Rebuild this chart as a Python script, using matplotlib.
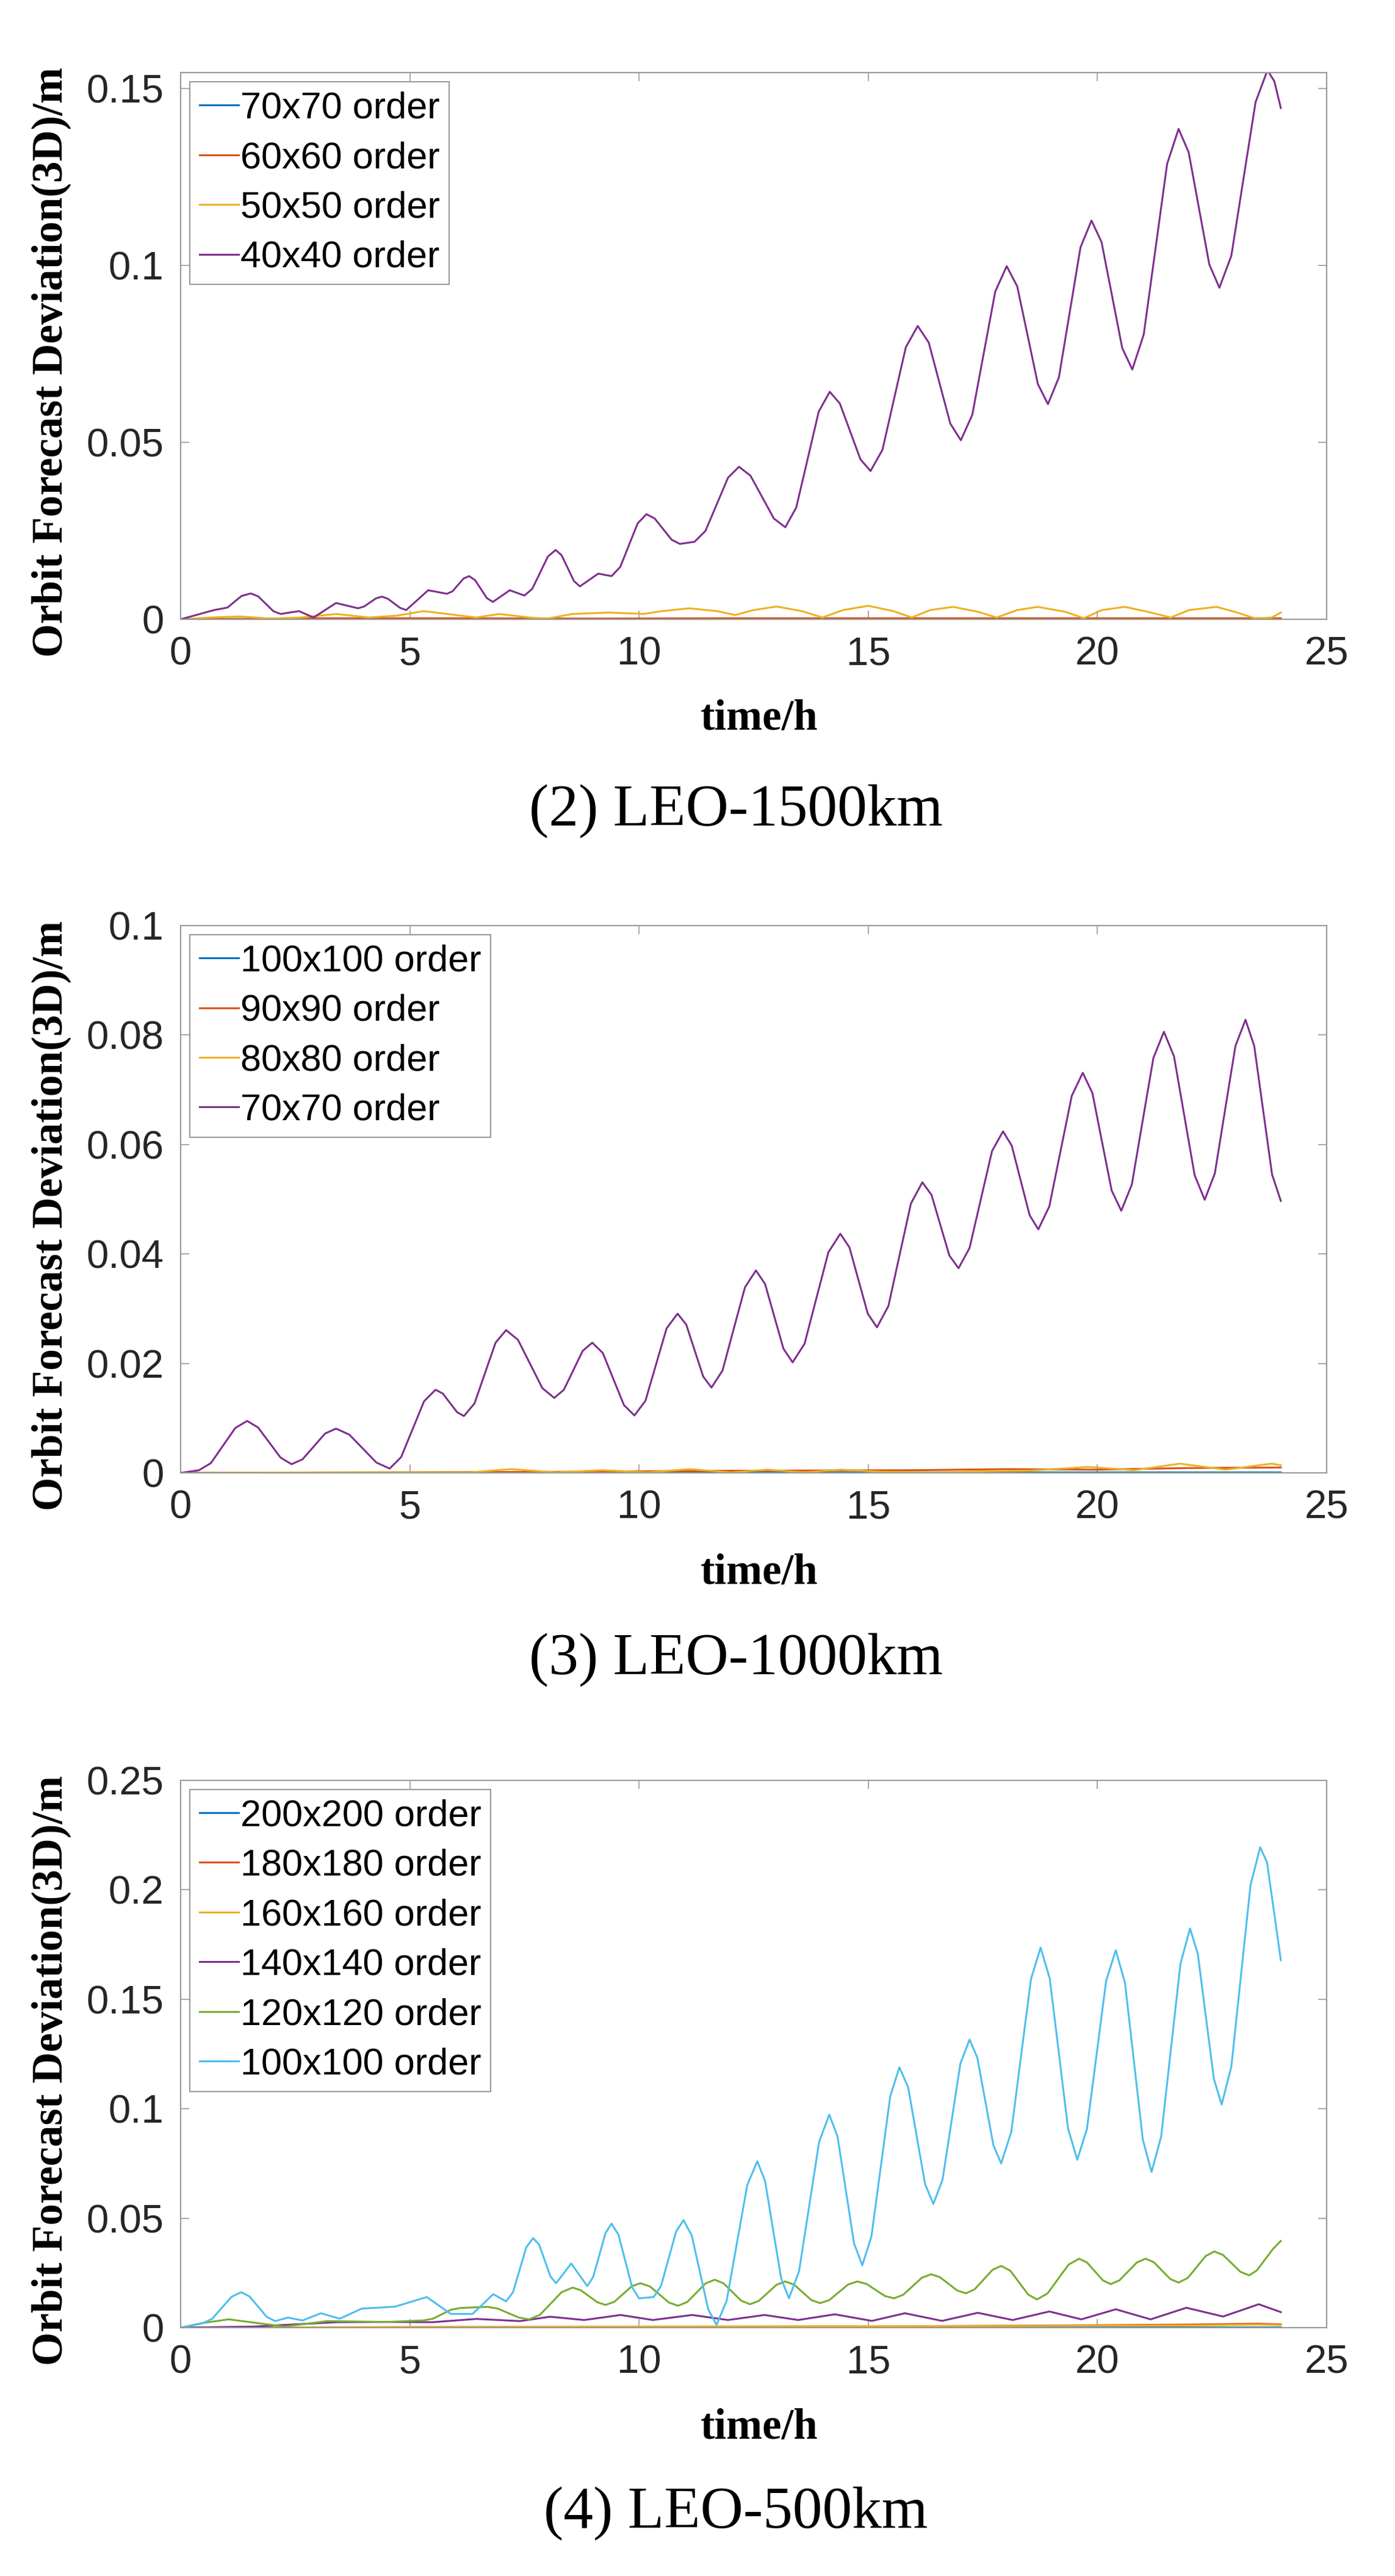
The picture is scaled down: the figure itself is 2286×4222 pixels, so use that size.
import matplotlib
matplotlib.use("Agg")
import matplotlib.pyplot as plt
from matplotlib.ticker import FuncFormatter

# ---- panel (2) LEO-1500km ----
top_labels = ['70x70 order', '60x60 order', '50x50 order', '40x40 order']
top_blue_t = [0, 6, 12, 18, 24]
top_blue_y = [0, 0.0001, 0.0001, 0.0001, 0.0001]
top_orange_t = [0, 3, 6, 9, 12, 15, 18, 21, 24]
top_orange_y = [0, 0.0003, 0.0003, 0.0002, 0.0003, 0.0003, 0.0003, 0.0003, 0.0003]
top_yellow_t = [0, 0.65, 1.3, 1.95, 2.6, 3.4, 4.1, 4.7, 5.3, 6.0, 6.45, 6.95, 7.6, 8.0,
                8.55, 9.35, 10.1, 10.5, 11.1, 11.7, 12.1, 12.5, 13.0, 13.55, 14.0, 14.45,
                15.0, 15.55, 15.95, 16.35, 16.85, 17.4, 17.8, 18.25, 18.7, 19.3, 19.7,
                20.1, 20.6, 21.1, 21.6, 22.0, 22.6, 23.05, 23.45, 23.8, 24.0]
top_yellow_y = [0, 0.0005, 0.0008, 0.0002, 0.0005, 0.0015, 0.0005, 0.001, 0.0023, 0.0012,
                0.0005, 0.0015, 0.0005, 0.0002, 0.0015, 0.0019, 0.0015, 0.0023, 0.0031,
                0.0023, 0.0012, 0.0026, 0.0036, 0.0023, 0.0005, 0.0026, 0.0038, 0.0023,
                0.0005, 0.0026, 0.0035, 0.0021, 0.0005, 0.0026, 0.0035, 0.0021, 0.0003,
                0.0026, 0.0035, 0.0021, 0.0005, 0.0026, 0.0035, 0.0019, 0.0002, 0.0005,
                0.0019]
top_purple_t = [0, 0.73, 1.02, 1.33, 1.53, 1.69, 2.02, 2.18, 2.58, 2.9, 3.39, 3.87, 4.0,
                4.26, 4.39, 4.52, 4.79, 4.92, 5.4, 5.81, 5.93, 6.17, 6.29, 6.42, 6.68,
                6.81, 7.18, 7.5, 7.67, 8.01, 8.18, 8.31, 8.58, 8.71, 9.11, 9.4, 9.59,
                9.97, 10.16, 10.34, 10.71, 10.89, 11.21, 11.45, 11.94, 12.18, 12.43, 12.94,
                13.19, 13.43, 13.92, 14.16, 14.38, 14.83, 15.05, 15.31, 15.82, 16.08,
                16.32, 16.79, 17.02, 17.27, 17.77, 18.02, 18.25, 18.7, 18.92, 19.16,
                19.63, 19.87, 20.09, 20.54, 20.76, 21.01, 21.52, 21.77, 21.99, 22.44,
                22.66, 22.92, 23.45, 23.71, 23.86, 24.0]
top_purple_y = [0, 0.0026, 0.0033, 0.0066, 0.0073, 0.0065, 0.0023, 0.0015, 0.0023,
                0.0005, 0.0046, 0.0031, 0.0036, 0.0059, 0.0064, 0.0058, 0.0032, 0.0026,
                0.0082, 0.0072, 0.0079, 0.0115, 0.0122, 0.0111, 0.006, 0.0049, 0.0082,
                0.0067, 0.0086, 0.0177, 0.0196, 0.0181, 0.0108, 0.0093, 0.0129, 0.0122,
                0.0148, 0.0271, 0.0297, 0.0285, 0.0225, 0.0213, 0.0219, 0.025, 0.04,
                0.0431, 0.0406, 0.0285, 0.026, 0.0316, 0.0587, 0.0643, 0.061, 0.0452,
                0.0419, 0.0479, 0.0769, 0.0829, 0.0782, 0.0553, 0.0506, 0.0578, 0.0926,
                0.0998, 0.0941, 0.0665, 0.0608, 0.0684, 0.1051, 0.1127, 0.1066, 0.0767,
                0.0706, 0.0805, 0.1287, 0.1386, 0.132, 0.1003, 0.0937, 0.1027, 0.1462,
                0.1552, 0.152, 0.1445]

# ---- panel (3) LEO-1000km ----
mid_labels = ['100x100 order', '90x90 order', '80x80 order', '70x70 order']
mid_blue_t = [0, 8, 16, 24]
mid_blue_y = [0, 0.0001, 0.0001, 0.0001]
mid_orange_t = [0, 4, 8, 12, 16, 18, 20, 22, 24]
mid_orange_y = [0, 0.0001, 0.0002, 0.0004, 0.0005, 0.0007, 0.0006, 0.0009, 0.001]
mid_yellow_t = [0, 3, 6.3, 7.2, 8.2, 9.2, 10.2, 11.1, 12.0, 12.8, 13.6, 14.4, 15.3, 16.5,
                17.5, 18.5, 19.8, 20.8, 21.8, 22.8, 23.8, 24.0]
mid_yellow_y = [0, 0.0001, 0.0001, 0.0007, 0.0001, 0.0005, 0.0001, 0.0007, 0.0001, 0.0006,
                0.0001, 0.0006, 0.0002, 0.0001, 0.0003, 0.0004, 0.0011, 0.0005, 0.0017,
                0.0006, 0.0017, 0.0014]
mid_purple_t = [0, 0.4, 0.66, 1.19, 1.45, 1.69, 2.18, 2.42, 2.66, 3.15, 3.39, 3.68, 4.27,
                4.56, 4.81, 5.31, 5.56, 5.72, 6.03, 6.18, 6.41, 6.87, 7.1, 7.36, 7.89,
                8.15, 8.36, 8.77, 8.98, 9.21, 9.67, 9.9, 10.14, 10.6, 10.84, 11.03, 11.4,
                11.58, 11.82, 12.31, 12.55, 12.75, 13.15, 13.35, 13.61, 14.13, 14.39,
                14.59, 14.99, 15.19, 15.44, 15.93, 16.18, 16.38, 16.77, 16.97, 17.21,
                17.7, 17.94, 18.13, 18.52, 18.71, 18.95, 19.44, 19.68, 19.89, 20.31,
                20.52, 20.75, 21.22, 21.45, 21.67, 22.12, 22.34, 22.56, 23.01, 23.23,
                23.42, 23.81, 24.0]
mid_purple_y = [0, 0.0005, 0.0018, 0.0082, 0.0095, 0.0083, 0.0028, 0.0016, 0.0025,
                0.0072, 0.0081, 0.007, 0.0019, 0.0008, 0.0029, 0.0131, 0.0152, 0.0145,
                0.0111, 0.0104, 0.0127, 0.0238, 0.0261, 0.0243, 0.0155, 0.0137, 0.0152,
                0.0223, 0.0238, 0.0219, 0.0124, 0.0105, 0.0132, 0.0264, 0.0291, 0.0271,
                0.0176, 0.0156, 0.0187, 0.0339, 0.037, 0.0345, 0.0227, 0.0202, 0.0236,
                0.0403, 0.0437, 0.0412, 0.0291, 0.0266, 0.0305, 0.0492, 0.0531, 0.0508,
                0.0397, 0.0374, 0.0411, 0.0588, 0.0624, 0.0598, 0.0471, 0.0445, 0.0487,
                0.0689, 0.0731, 0.0694, 0.0516, 0.0479, 0.0527, 0.0758, 0.0806, 0.0761,
                0.0544, 0.0499, 0.0547, 0.078, 0.0828, 0.078, 0.0545, 0.0497]

# ---- panel (4) LEO-500km ----
bot_labels = ['200x200 order', '180x180 order', '160x160 order', '140x140 order',
              '120x120 order', '100x100 order']
bot_blue_t = [0, 8, 16, 24]
bot_blue_y = [0, 0.0001, 0.0001, 0.0001]
bot_orange_t = [0, 6, 12, 16, 18, 20, 22, 23.5, 24]
bot_orange_y = [0, 0.0002, 0.0004, 0.0006, 0.0009, 0.0011, 0.0014, 0.0018, 0.0015]
bot_yellow_t = [0, 6, 12, 18, 22, 23.5, 24]
bot_yellow_y = [0, 0.0004, 0.0006, 0.0008, 0.001, 0.0014, 0.0012]
bot_purple_t = [0, 1.6, 3.4, 4.5, 5.5, 6.45, 7.4, 8.06, 8.8, 9.6, 10.3, 11.16, 11.94,
                12.74, 13.47, 14.27, 15.08, 15.8, 16.61, 17.39, 18.15, 18.95, 19.65,
                20.4, 21.16, 21.94, 22.74, 23.52, 24.0]
bot_purple_y = [0, 0.0005, 0.0025, 0.0026, 0.0025, 0.004, 0.003, 0.005, 0.0035, 0.0058,
                0.0035, 0.0058, 0.0035, 0.0058, 0.0035, 0.0061, 0.0031, 0.0066, 0.0031,
                0.0068, 0.0035, 0.0074, 0.0038, 0.0084, 0.0038, 0.0091, 0.0051, 0.0107,
                0.0071]
bot_green_t = [0, 0.5, 1.05, 2.26, 3.2, 4.5, 5.3, 5.5, 5.9, 6.1, 6.7, 6.92, 7.38, 7.6,
               7.84, 8.31, 8.55, 8.73, 9.09, 9.27, 9.46, 9.84, 10.03, 10.24, 10.65, 10.85,
               11.05, 11.45, 11.65, 11.84, 12.23, 12.42, 12.61, 13.0, 13.19, 13.38, 13.76,
               13.95, 14.15, 14.56, 14.76, 14.96, 15.36, 15.56, 15.76, 16.17, 16.37,
               16.56, 16.94, 17.13, 17.32, 17.71, 17.9, 18.1, 18.49, 18.68, 18.91, 19.37,
               19.6, 19.77, 20.12, 20.29, 20.48, 20.86, 21.05, 21.23, 21.59, 21.77,
               21.97, 22.36, 22.55, 22.74, 23.12, 23.31, 23.48, 23.83, 24.0]
bot_green_y = [0, 0.0022, 0.0038, 0.0005, 0.003, 0.0026, 0.0033, 0.0041, 0.0082, 0.009,
               0.0095, 0.0087, 0.0046, 0.0038, 0.0059, 0.0162, 0.0183, 0.0171, 0.0116,
               0.0104, 0.0118, 0.0189, 0.0203, 0.0188, 0.0115, 0.01, 0.0117, 0.0202,
               0.0219, 0.0203, 0.0123, 0.0107, 0.0122, 0.0196, 0.0211, 0.0197, 0.0126,
               0.0112, 0.0126, 0.0197, 0.0211, 0.02, 0.0145, 0.0134, 0.015, 0.0228,
               0.0244, 0.0231, 0.017, 0.0157, 0.0175, 0.0264, 0.0282, 0.026, 0.0151,
               0.0129, 0.0156, 0.0288, 0.0315, 0.0298, 0.0216, 0.0199, 0.0216, 0.0298,
               0.0315, 0.0299, 0.0222, 0.0206, 0.0227, 0.0327, 0.0348, 0.0332, 0.0255,
               0.0239, 0.0262, 0.036, 0.0396]
bot_cyan_t = [0, 0.48, 0.69, 1.11, 1.32, 1.5, 1.88, 2.06, 2.34, 2.66, 3.06, 3.47, 3.95,
              4.68, 5.37, 5.89, 6.37, 6.82, 7.1, 7.25, 7.54, 7.69, 7.82, 8.07, 8.19, 8.52,
              8.87, 9.0, 9.27, 9.4, 9.55, 9.85, 10.0, 10.32, 10.48, 10.81, 10.97, 11.15,
              11.51, 11.69, 11.91, 12.36, 12.58, 12.75, 13.1, 13.27, 13.49, 13.93, 14.15,
              14.33, 14.69, 14.87, 15.07, 15.48, 15.68, 15.87, 16.24, 16.42, 16.62,
              17.01, 17.21, 17.38, 17.73, 17.9, 18.12, 18.55, 18.76, 18.96, 19.36,
              19.56, 19.77, 20.19, 20.4, 20.6, 20.99, 21.18, 21.39, 21.81, 22.02, 22.19,
              22.54, 22.71, 22.92, 23.34, 23.55, 23.7, 24.0]
bot_cyan_y = [0, 0.002, 0.0041, 0.0141, 0.0162, 0.0143, 0.0049, 0.003, 0.0046, 0.0033,
              0.0066, 0.0041, 0.0087, 0.0096, 0.014, 0.0063, 0.0063, 0.0153, 0.012,
              0.0162, 0.0367, 0.0409, 0.0379, 0.0233, 0.0203, 0.0293, 0.019, 0.0232,
              0.0433, 0.0475, 0.0425, 0.0184, 0.0134, 0.014, 0.0191, 0.044, 0.0491,
              0.0421, 0.0083, 0.0013, 0.0122, 0.0651, 0.076, 0.0669, 0.0225, 0.0134,
              0.0257, 0.085, 0.0973, 0.0873, 0.0385, 0.0285, 0.0417, 0.1057, 0.1189,
              0.1098, 0.0656, 0.0565, 0.0675, 0.1206, 0.1316, 0.1233, 0.0833, 0.075,
              0.0894, 0.1592, 0.1736, 0.1594, 0.0908, 0.0767, 0.0907, 0.1584, 0.1724,
              0.1576, 0.0859, 0.0711, 0.0873, 0.1661, 0.1823, 0.1706, 0.1136, 0.1019,
              0.1191, 0.2022, 0.2194, 0.2125, 0.1678]

matlab = ['#0072BD', '#D95319', '#EDB120', '#7E2F8E', '#77AC30', '#4DBEEE']
gray = '#999999'

panels = [
    dict(rect=[0.1295, 0.7596, 0.8215, 0.2122], ylim=(0, 0.1545),
         yticks=[0, 0.05, 0.1, 0.15], labels=top_labels, caption='(2) LEO-1500km',
         cap_y=1 - 1330 / 4222,
         series=[(top_blue_t, top_blue_y), (top_orange_t, top_orange_y),
                 (top_yellow_t, top_yellow_y), (top_purple_t, top_purple_y)]),
    dict(rect=[0.1295, 0.4282, 0.8215, 0.2125], ylim=(0, 0.1),
         yticks=[0, 0.02, 0.04, 0.06, 0.08, 0.1], labels=mid_labels,
         caption='(3) LEO-1000km', cap_y=1 - 2721 / 4222,
         series=[(mid_blue_t, mid_blue_y), (mid_orange_t, mid_orange_y),
                 (mid_yellow_t, mid_yellow_y), (mid_purple_t, mid_purple_y)]),
    dict(rect=[0.1295, 0.0964, 0.8215, 0.2125], ylim=(0, 0.25),
         yticks=[0, 0.05, 0.1, 0.15, 0.2, 0.25], labels=bot_labels,
         caption='(4) LEO-500km', cap_y=1 - 4120 / 4222,
         series=[(bot_blue_t, bot_blue_y), (bot_orange_t, bot_orange_y),
                 (bot_yellow_t, bot_yellow_y), (bot_purple_t, bot_purple_y),
                 (bot_green_t, bot_green_y), (bot_cyan_t, bot_cyan_y)]),
]

fig = plt.figure(figsize=(22.86, 42.22), dpi=100)
sans = 'Liberation Sans'
serif = 'Liberation Serif'

for p in panels:
    ax = fig.add_axes(p['rect'])
    for i, (t, y) in enumerate(p['series']):
        ax.plot(t, y, color=matlab[i], lw=2.2, label=p['labels'][i])
    ax.set_xlim(0, 25)
    ax.set_ylim(*p['ylim'])
    ax.set_xticks([0, 5, 10, 15, 20, 25])
    ax.set_yticks(p['yticks'])
    ax.yaxis.set_major_formatter(FuncFormatter(lambda v, pos: '%g' % v))
    ax.tick_params(direction='in', length=10, width=1.2, color=gray,
                   top=True, right=True, labelsize=47, labelcolor='#262626', pad=20)
    for lab in ax.get_xticklabels() + ax.get_yticklabels():
        lab.set_fontfamily(sans)
    for s in ax.spines.values():
        s.set_color(gray)
        s.set_linewidth(1.5)
    ax.set_xlabel('time/h', fontfamily=serif, fontweight='bold', fontsize=51)
    ax.xaxis.label.set_verticalalignment('center')
    ax.xaxis.set_label_coords(0.505, -0.183)
    ax.set_ylabel('Orbit Forecast Deviation(3D)/m', fontfamily=serif,
                  fontweight='bold', fontsize=51)
    ax.yaxis.label.set_verticalalignment('center')
    ax.yaxis.set_label_coords(-0.113, 0.47)
    leg = ax.legend(loc='upper left', prop={'family': sans, 'size': 44},
                    handlelength=1.05, handletextpad=0.05, labelspacing=0.4,
                    borderpad=0.25, borderaxespad=0.25, fancybox=False,
                    framealpha=1, edgecolor=gray)
    leg.get_frame().set_linewidth(1.5)
    fig.text(0.5276, p['cap_y'], p['caption'], ha='center', va='center',
             fontfamily=serif, fontsize=70)

fig.savefig('out.png', dpi=100, facecolor='white')
